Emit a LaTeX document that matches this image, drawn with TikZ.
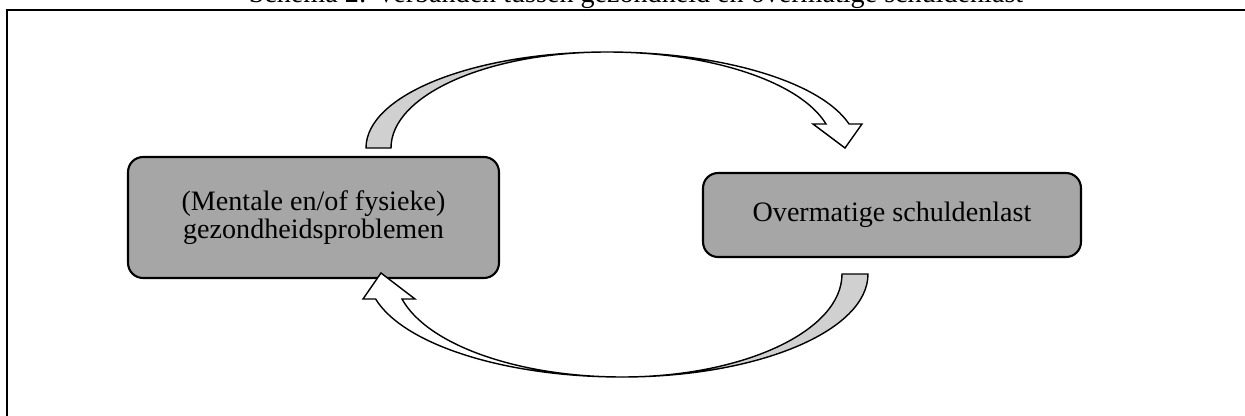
\documentclass[tikz,border=0pt]{standalone}
\usepackage{fontspec}
\setmainfont{Liberation Serif}

\definecolor{boxgrey}{HTML}{A6A6A6}
\definecolor{bandgrey}{HTML}{D0D0D0}

\begin{document}
\begin{tikzpicture}[x=0.02cm, y=0.02cm,
	box/.style={draw, line width=1.2pt, fill=boxgrey, rounded corners=0.3cm, align=center, font=\fontsize{16}{16}\selectfont},
	band/.style={draw, line width=0.8pt, line join=miter}]
			\useasboundingbox (0,0) rectangle (1245,-416);
			\clip (0,0) rectangle (1245,-416);

			\node[anchor=base, font=\fontsize{16}{19}\selectfont] (titel) at (636,-2) {Schema 2: Verbanden tussen gezondheid en overmatige schuldenlast};
			\draw[line width=1.2pt] (7,-430) -- (7,-10) -- (1260,-10);

			\node[box, minimum width=7.42cm, minimum height=2.42cm] (gezond) at (313.5,-217.5) {(Mentale en/of fysieke)\\gezondheidsproblemen};
			\node[box, minimum width=7.56cm, minimum height=1.68cm] (schuld) at (892,-215) {Overmatige schuldenlast};

			\coordinate (boven) at (607,-148);
			\coordinate (onder) at (622,-274);

			\filldraw[band, fill=bandgrey] (366,-148) arc[start angle=180, end angle=90, x radius=241, y radius=96]
			arc[start angle=90, end angle=180, x radius=216, y radius=96] -- cycle;
			\filldraw[band, fill=white] (607,-52) arc[start angle=90, end angle=14.48, x radius=250, y radius=96]
			-- (862,-124) -- (845,-148) -- (813,-124) -- (826,-124)
			arc[start angle=14.48, end angle=90, x radius=226, y radius=96] -- cycle;

			\filldraw[band, fill=bandgrey] (868,-274) arc[start angle=0, end angle=-90, x radius=246, y radius=103]
			arc[start angle=-90, end angle=0, x radius=220, y radius=103] -- cycle;
			\filldraw[band, fill=white] (622,-377) arc[start angle=270, end angle=194.05, x radius=254, y radius=103]
			-- (363,-299) -- (381,-273) -- (415,-299) -- (402,-299)
			arc[start angle=194.05, end angle=270, x radius=227, y radius=103] -- cycle;
		\end{tikzpicture}
\end{document}
